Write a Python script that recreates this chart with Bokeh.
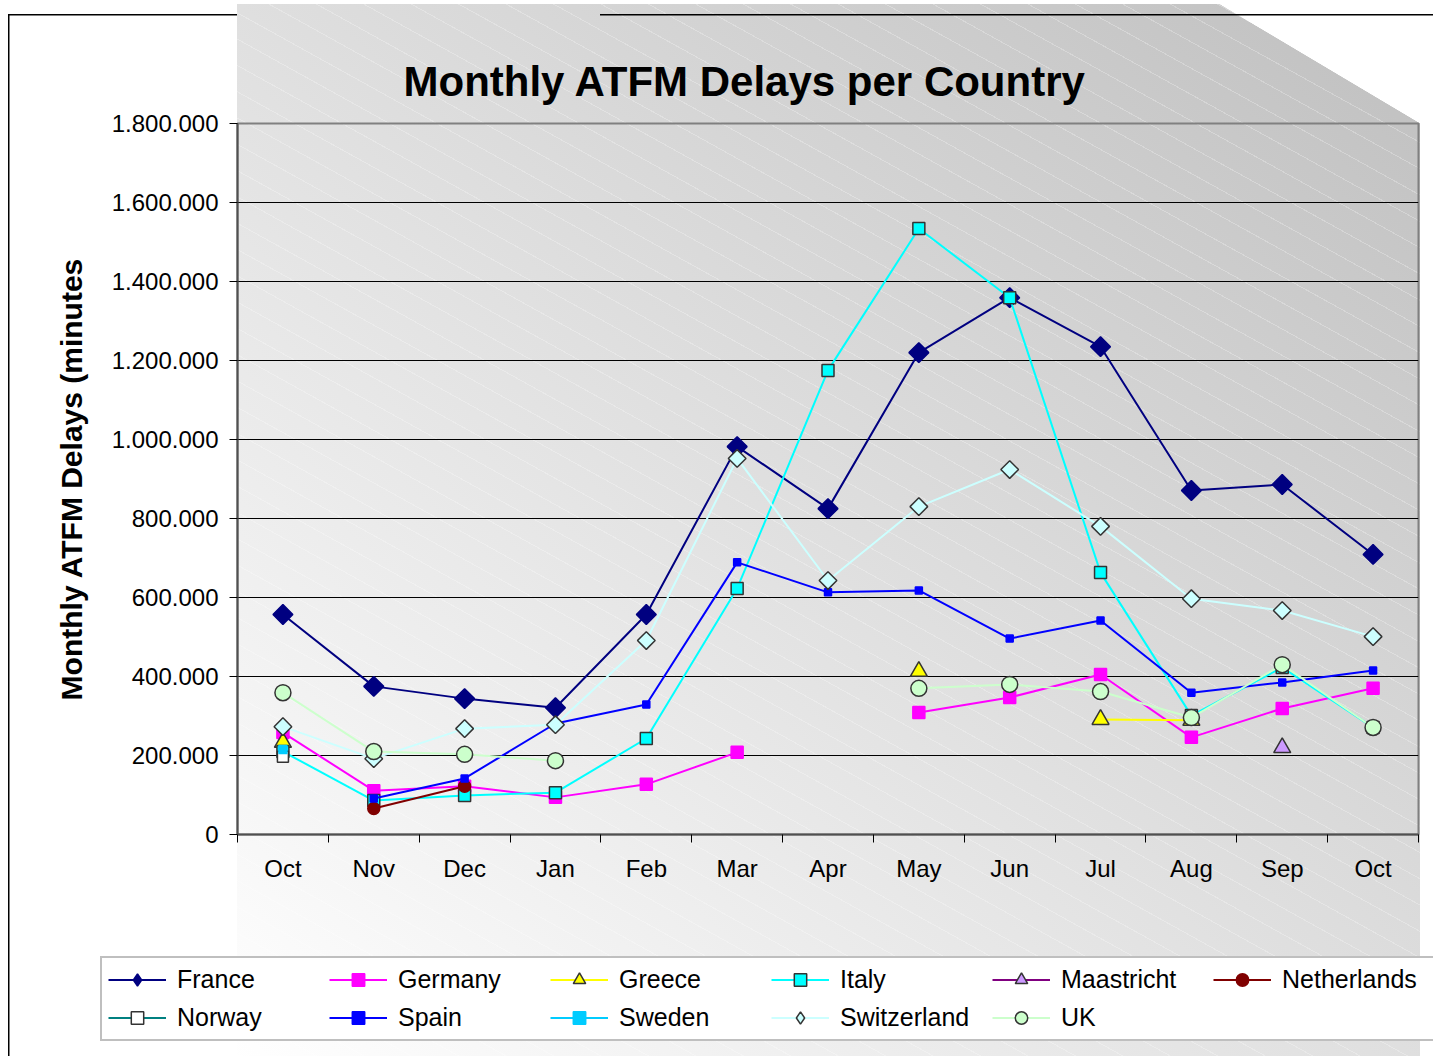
import numpy as np
from bokeh.plotting import figure
from bokeh.layouts import column
from bokeh.models import (ColumnDataSource, FixedTicker, Legend, LegendItem, Range1d)
from bokeh.embed import file_html
from bokeh.resources import INLINE

# ---------------- data ----------------
months = ["Oct", "Nov", "Dec", "Jan", "Feb", "Mar", "Apr", "May", "Jun", "Jul", "Aug", "Sep", "Oct"]

france = [557000, 375000, 344000, 321000, 557000, 982000, 825000, 1220000, 1359000, 1235000, 871000, 886000, 709000]
germany = [258000, 111000, 122000, 94000, 127000, 208000, None, 309000, 347000, 405000, 246000, 319000, 370000]
greece = [233000, None, None, None, None, None, None, 413000, None, 291000, 289000, None, None]
italy = [210000, 86000, 99000, 106000, 243000, 623000, 1175000, 1534000, 1359000, 663000, 301000, 423000, 271000]
maastricht = [None, None, None, None, None, None, None, None, None, None, None, 220000, None]
netherlands = [None, 66000, 122000, None, None, None, None, None, None, None, None, None, None]
norway = [197000, None, None, None, None, None, None, None, None, None, None, None, None]
spain = [None, 91000, 142000, 281000, 329000, 689000, 613000, 618000, 496000, 542000, 359000, 385000, 415000]
sweden = [215000, None, None, None, None, None, None, None, None, None, None, None, None]
switzerland = [273000, 192000, 268000, 278000, 491000, 952000, 643000, 830000, 924000, 780000, 597000, 567000, 501000]
uk = [359000, 210000, 203000, 187000, None, None, None, 370000, 380000, 362000, 296000, 430000, 271000]

y_ticks = [0, 200000, 400000, 600000, 800000, 1000000, 1200000, 1400000, 1600000, 1800000]
y_tick_labels = ["0", "200.000", "400.000", "600.000", "800.000", "1.000.000",
                 "1.200.000", "1.400.000", "1.600.000", "1.800.000"]

# ---------------- styles ----------------
FONT = "Liberation Sans"
OUT = "#333333"
series = [
    # name, values, line color, marker, size, fill, outline, angle, legend marker
    ("France", france, "#000080", "square", 14, "#000080", "#000080", np.pi / 4, "diamond"),
    ("Germany", germany, "#FF00FF", "square", 12, "#FF00FF", "#FF00FF", 0, "square"),
    ("Greece", greece, "#FFFF00", "triangle", 17, "#FFFF00", OUT, 0, "triangle"),
    ("Italy", italy, "#00FFFF", "square", 12, "#00FFFF", OUT, 0, "square"),
    ("Maastricht", maastricht, "#800080", "triangle", 17, "#CC99FF", OUT, 0, "triangle"),
    ("Netherlands", netherlands, "#800000", "circle", 12, "#800000", "#800000", 0, "circle"),
    ("Norway", norway, "#008080", "square", 11, "#FFFFFF", OUT, 0, "square"),
    ("Spain", spain, "#0000FF", "square", 7, "#0000FF", "#0000FF", 0, "square"),
    ("Sweden", sweden, "#00CCFF", "square", 8, "#00CCFF", "#00CCFF", 0, "square"),
    ("Switzerland", switzerland, "#CCFFFF", "square", 12.5, "#CCFFFF", OUT, np.pi / 4, "diamond"),
    ("UK", uk, "#CCFFCC", "circle", 16, "#CCFFCC", OUT, 0, "circle"),
]

W = 1433
H1, H2 = 934, 122
FL, FT, FW, FH = 237, 123, 1181, 711

p = figure(width=W, height=H1, output_backend="svg", toolbar_location=None,
           x_range=Range1d(-0.5, 12.5), y_range=Range1d(0, 1800000),
           min_border_left=FL, min_border_top=FT,
           min_border_right=W - FL - FW, min_border_bottom=H1 - FT - FH,
           title="Monthly ATFM Delays per Country")
p.frame_align = False

p.border_fill_alpha = 0
p.background_fill_alpha = 0
p.outline_line_color = "#808080"
p.outline_line_width = 2

# title
p.title.text_font = FONT
p.title.text_font_size = "42px"
p.title.text_font_style = "bold"
p.title.text_color = "#000000"
p.title.align = "left"
p.title.offset = 166
p.title.standoff = 37

# axes
xt = list(range(len(months)))
p.xaxis.ticker = FixedTicker(ticks=xt, minor_ticks=[i - 0.5 for i in range(len(months) + 1)])
p.xaxis.major_label_overrides = {i: m for i, m in enumerate(months)}
p.xaxis.major_tick_line_alpha = 0
p.xaxis.major_tick_out = 8
p.xaxis.minor_tick_out = 8
p.xaxis.minor_tick_in = 0
p.xaxis.minor_tick_line_color = "#000000"
p.xaxis.major_label_standoff = 12

p.yaxis.ticker = FixedTicker(ticks=y_ticks)
p.yaxis.major_label_overrides = {t: s for t, s in zip(y_ticks, y_tick_labels)}
p.yaxis.major_tick_out = 8
p.yaxis.major_tick_in = 0
p.yaxis.minor_tick_line_alpha = 0
p.yaxis.major_label_standoff = 11
p.yaxis.axis_label = "Monthly ATFM Delays (minutes"
p.yaxis.axis_label_text_font = FONT
p.yaxis.axis_label_text_font_size = "30px"
p.yaxis.axis_label_text_font_style = "bold"
p.yaxis.axis_label_text_color = "#000000"
p.yaxis.axis_label_standoff = 21

for ax in (p.xaxis, p.yaxis):
    ax.major_label_text_font = FONT
    ax.major_label_text_font_size = "24px"
    ax.major_label_text_color = "#000000"
    ax.axis_line_color = "#505050"
    ax.axis_line_width = 2
    ax.major_tick_line_color = "#000000"

p.xgrid.grid_line_color = None
p.ygrid.grid_line_color = "#000000"
p.ygrid.grid_line_width = 1
p.ygrid.ticker = FixedTicker(ticks=y_ticks[1:])

# legend figure (holds the legend below the chart; its ranges keep the data out of view)
q = figure(width=W, height=H2, output_backend="svg", toolbar_location=None,
           x_range=Range1d(100, 101), y_range=Range1d(-2, -1),
           min_border=0, min_border_left=0, min_border_right=0,
           min_border_top=0, min_border_bottom=0)
q.frame_align = False
q.axis.visible = False
q.grid.grid_line_color = None
q.outline_line_color = None
q.border_fill_alpha = 0
q.background_fill_alpha = 0

# series
items = []
xs = np.arange(len(months), dtype=float)
for name, vals, lc, marker, size, fc, oc, ang, lmarker in series:
    y = np.array([np.nan if v is None else v for v in vals], dtype=float)
    src = ColumnDataSource(dict(x=xs, y=y))
    p.line("x", "y", source=src, line_color=lc, line_width=2)
    p.scatter("x", "y", source=src, marker=marker, size=size, angle=ang,
              fill_color=fc, line_color=oc, line_width=1.5)
    lr = q.line("x", "y", source=src, line_color=lc, line_width=2)
    sr = q.scatter("x", "y", source=src, marker=lmarker, size=size,
                   fill_color=fc, line_color=oc, line_width=1.5)
    items.append(LegendItem(label=name, renderers=[lr, sr]))

legend = Legend(items=items, orientation="horizontal", ncols=6,
                location=(100, 15),
                glyph_width=58, glyph_height=31, label_height=31,
                label_width=145, label_standoff=11, spacing=7, padding=6, margin=0,
                label_text_font=FONT, label_text_font_size="25px",
                label_text_color="#000000",
                background_fill_color="#ffffff", background_fill_alpha=1,
                border_line_color="#808080", border_line_width=2)
q.add_layout(legend)

bg_layers = [
    "linear-gradient(#000,#000) 8px 14px / 1.5px 100% no-repeat",
    "linear-gradient(#000,#000) 600px 14px / 900px 1.5px no-repeat",
    "linear-gradient(to bottom left, #ffffff 50%, rgba(255,255,255,0) 50.3%) 1220px 4px / 200px 119px no-repeat",
    "repeating-linear-gradient(29deg, rgba(255,255,255,0) 0px, rgba(255,255,255,0) 22px, rgba(255,255,255,0.25) 22px, rgba(255,255,255,0.25) 23px) 237px 4px / 1183px 1060px no-repeat",
    "linear-gradient(to top right, #ffffff, #bfbfbf) 237px 4px / 1183px 1060px no-repeat",
    "linear-gradient(#000,#000) 8px 14px / 229px 1.5px no-repeat",
    "#ffffff",
]
layout = column(p, q, spacing=0)
layout.styles = {"background": ", ".join(bg_layers)}

open("out.html", "w").write(file_html(layout, INLINE))
